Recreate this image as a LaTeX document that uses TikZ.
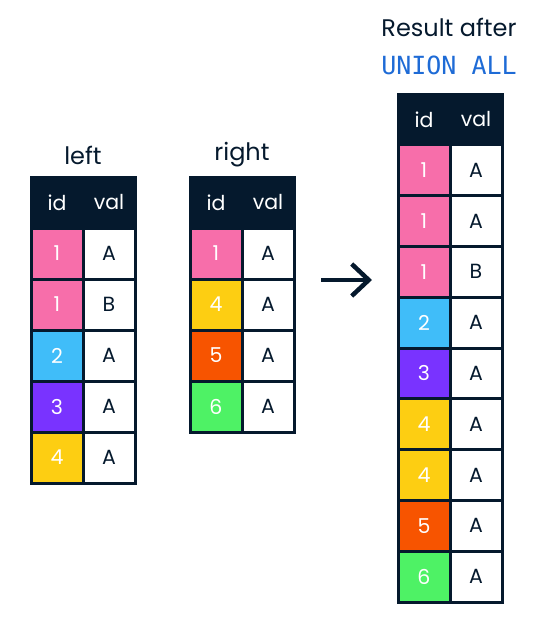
\documentclass[tikz,border=0pt]{standalone}
\usepackage{fontspec}
\setmainfont{Poppins}
\newfontfamily\codefont{DejaVu Sans Mono}
\usetikzlibrary{arrows.meta}
\definecolor{navy}{HTML}{05192D}
\definecolor{pinkc}{HTML}{F76EAA}
\definecolor{bluec}{HTML}{40BDF9}
\definecolor{purplec}{HTML}{7933FF}
\definecolor{yellowc}{HTML}{FDCE12}
\definecolor{orangec}{HTML}{F75400}
\definecolor{greenc}{HTML}{4EF265}
\definecolor{codeblue}{HTML}{1E6BD6}
\begin{document}
\begin{tikzpicture}[x=1pt,y=-1pt,
  cell/.style={draw=navy, line width=3pt, minimum width=52pt, minimum height=#1, inner sep=0pt, outer sep=0pt, font=\fontsize{20.5}{24}\selectfont},
  cell/.default=51pt,
  title/.style={text=navy, font=\fontsize{24}{28}\selectfont, inner sep=0pt},
  hdr/.style={cell=#1, fill=navy, text=white},
  hdr/.default=51pt,
  idc/.style={cell=#1, text=white},
  idc/.default=51pt,
  valc/.style={cell=#1, fill=white, text=navy},
  valc/.default=51pt]
\useasboundingbox (0,0) rectangle (536,625);
% titles
\node[title] (tleft) at (83,155) {left};
\node[title] (tright) at (242,155) {right};
\node[title] (tres) at (449,27) {Result after};
\node[title, text=codeblue, font=\codefont\fontsize{25}{28}\selectfont] (tunion) at (449,65) {UNION ALL};
% left table
\node[hdr] (Lh1) at (57,202.5) {id};
\node[hdr] (Lh2) at (109,202.5) {val};
\foreach \c/\n/\v [count=\i] in {pinkc/1/A, pinkc/1/B, bluec/2/A, purplec/3/A, yellowc/4/A}{
  \node[idc, fill=\c] (L\i a) at (57,202.5+51*\i) {\n};
  \node[valc] (L\i b) at (109,202.5+51*\i) {\v};
}
% right table
\node[hdr] (Rh1) at (216,202.5) {id};
\node[hdr] (Rh2) at (268,202.5) {val};
\foreach \c/\n/\v [count=\i] in {pinkc/1/A, yellowc/4/A, orangec/5/A, greenc/6/A}{
  \node[idc, fill=\c] (R\i a) at (216,202.5+51*\i) {\n};
  \node[valc] (R\i b) at (268,202.5+51*\i) {\v};
}
% result table
\node[hdr=50.8pt] (Uh1) at (424,119.4) {id};
\node[hdr=50.8pt] (Uh2) at (476,119.4) {val};
\foreach \c/\n/\v [count=\i] in {pinkc/1/A, pinkc/1/A, pinkc/1/B, bluec/2/A, purplec/3/A, yellowc/4/A, yellowc/4/A, orangec/5/A, greenc/6/A}{
  \node[idc=50.8pt, fill=\c] (U\i a) at (424,119.4+50.8*\i) {\n};
  \node[valc=50.8pt] (U\i b) at (476,119.4+50.8*\i) {\v};
}
% arrow
\coordinate (as) at (321,280);
\coordinate (ae) at (372,280);
\draw[navy, line width=4.5pt, -{Straight Barb[length=17pt, width=32pt, line width=4.5pt]}] (as) -- (ae);
\end{tikzpicture}
\end{document}
